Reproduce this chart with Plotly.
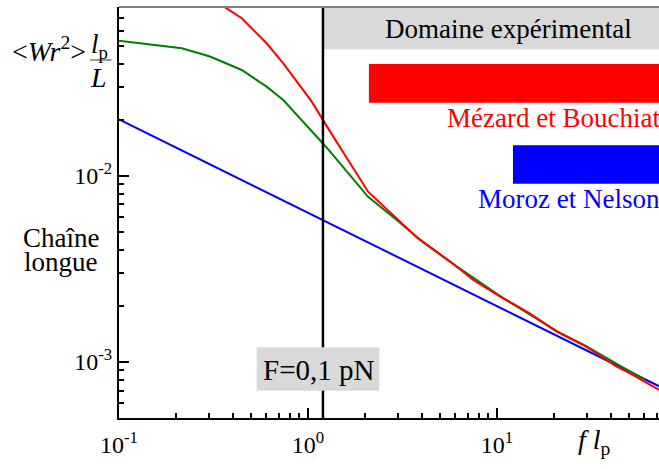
import math
import plotly.graph_objects as go

# ---- data (reduced force f*l_p vs <Wr^2> l_p / L) ----
moroz_x = [0.1, 1.2, 10.0, 72.0]
moroz_y = [0.0201, 0.00578, 0.00198, 0.000738]

green_x = [0.1, 0.215, 0.303, 0.446, 0.604, 0.740, 1.2, 1.31, 2.08, 2.95, 3.82,
           6.12, 10.4, 20.7, 29.8, 43.0, 60.0]
green_y = [0.0532, 0.0484, 0.0437, 0.0370, 0.0301, 0.0255, 0.0149, 0.01346, 0.0077,
           0.00578, 0.00462, 0.00326, 0.00225, 0.00146, 0.00121, 0.000973, 0.000807]

mezard_x = [0.36, 0.446, 0.604, 0.740, 1.047, 1.2, 1.31, 2.08, 2.95, 3.82, 6.12,
            7.49, 10.4, 14.9, 20.7, 29.8, 43.0, 50.6, 72.0]
mezard_y = [0.0811, 0.0702, 0.0515, 0.0402, 0.0250, 0.0199, 0.01725, 0.0082, 0.0059,
            0.0046, 0.00324, 0.00275, 0.00224, 0.00182, 0.00145, 0.00120, 0.00094,
            0.000866, 0.000705]

# reduced force corresponding to F = 0,1 pN
F_line = 1.2
# start of the experimental domains
domain_start_mezard = 2.1
domain_start_moroz = 12.15

x_range = [0.1, 72.0]
y_range = [0.000498, 0.0807]

x_major = [0.1, 1, 10]
x_major_text = ["10<sup>-1</sup>", "10<sup>0</sup>", "10<sup>1</sup>"]
y_major = [0.001, 0.01]
y_major_text = ["10<sup>-3</sup>", "10<sup>-2</sup>"]

x_minor = [m * 10 ** e for e in (-1, 0, 1) for m in range(2, 10) if m * 10 ** e <= x_range[1]]
y_minor = [m * 10 ** e for e in (-4, -3, -2) for m in range(2, 10)
           if y_range[0] <= m * 10 ** e <= y_range[1]]

# ---- layout geometry (pixels) ----
W, H = 659, 469
PL, PR, PT, PB = 119, 659, 7, 418
FONT = "Liberation Serif"


def px(x):
    return (x - PL) / (PR - PL)


def py(y):
    return (PB - y) / (PB - PT)


fig = go.Figure()
fig.add_trace(go.Scatter(x=moroz_x, y=moroz_y, mode="lines",
                         line=dict(color="#0000ff", width=2), showlegend=False))
fig.add_trace(go.Scatter(x=green_x, y=green_y, mode="lines",
                         line=dict(color="#008000", width=2), showlegend=False))
fig.add_trace(go.Scatter(x=mezard_x, y=mezard_y, mode="lines",
                         line=dict(color="#ff0000", width=2), showlegend=False))

shapes = [
    # experimental domain header box
    dict(type="rect", xref="x", yref="paper", x0=F_line, x1=x_range[1],
         y0=py(49.3), y1=1, fillcolor="#d9d9d9", line=dict(width=0), layer="above"),
    # experimental bars
    dict(type="rect", xref="x", yref="paper", x0=domain_start_mezard, x1=x_range[1],
         y0=py(102.7), y1=py(64), fillcolor="#ff0000", line=dict(width=0), layer="above"),
    dict(type="rect", xref="x", yref="paper", x0=domain_start_moroz, x1=x_range[1],
         y0=py(183.7), y1=py(145.3), fillcolor="#0000ff", line=dict(width=0), layer="above"),
    # vertical force line
    dict(type="line", xref="x", yref="paper", x0=F_line, x1=F_line, y0=0, y1=1,
         line=dict(color="black", width=2.5), layer="above"),
    # F box
    dict(type="rect", xref="paper", yref="paper", x0=px(256.7), x1=px(379.3),
         y0=py(390.7), y1=py(347.3), fillcolor="#d9d9d9", line=dict(width=0), layer="above"),
    # top border
    dict(type="line", xref="paper", yref="paper", x0=0, x1=1, y0=1, y1=1,
         line=dict(color="#808080", width=2), layer="above"),
    # fraction bar of the y label
    dict(type="line", xref="paper", yref="paper", x0=px(90), x1=px(111.5),
         y0=py(60), y1=py(60), line=dict(color="#555555", width=1.2), layer="above"),
]

ann = []


def add_text(text, x, y, size, color="black", xanchor="center", yanchor="middle"):
    ann.append(dict(text=text, x=px(x), y=py(y), xref="paper", yref="paper",
                    showarrow=False, xanchor=xanchor, yanchor=yanchor,
                    font=dict(family=FONT, size=size, color=color)))


add_text("Domaine expérimental", 508, 29, 27)
add_text("Mézard et Bouchiat", 662, 118, 27, color="#ff0000", xanchor="right")
add_text("Moroz et Nelson", 662, 199, 27, color="#0000ff", xanchor="right")
add_text("F=0,1 pN", 318, 370, 29)
add_text("Chaîne", 60.5, 238, 27)
add_text("longue", 60.5, 262, 27)
add_text("&lt;<i>Wr</i><sup>2</sup>&gt;", 10, 50, 28, xanchor="left")
add_text("<i>l</i><sub>p</sub>", 99, 46, 27)
add_text("<i>L</i>", 98, 77, 28)
add_text("<i>f</i> <i>l</i><sub>p</sub>", 576, 442, 28, xanchor="left")

fig.update_layout(
    width=W, height=H,
    margin=dict(l=PL, r=W - PR, t=PT, b=H - PB, pad=0),
    paper_bgcolor="white", plot_bgcolor="white",
    shapes=shapes, annotations=ann,
    font=dict(family=FONT, color="black"),
)

fig.update_xaxes(
    type="log", range=[math.log10(x_range[0]), math.log10(x_range[1])],
    showgrid=False, zeroline=False, showline=True, linecolor="black", linewidth=2,
    ticks="inside", ticklen=10, tickwidth=1.5, tickcolor="black",
    tickmode="array", tickvals=x_major, ticktext=x_major_text, ticklabelstandoff=4,
    tickfont=dict(family=FONT, size=24, color="black"),
    minor=dict(tickmode="array", tickvals=x_minor, ticks="inside", ticklen=5,
               tickwidth=1.5, tickcolor="black", showgrid=False),
)
fig.update_yaxes(
    type="log", range=[math.log10(y_range[0]), math.log10(y_range[1])],
    showgrid=False, zeroline=False, showline=True, linecolor="black", linewidth=2,
    ticks="inside", ticklen=10, tickwidth=1.5, tickcolor="black",
    tickmode="array", tickvals=y_major, ticktext=y_major_text,
    tickfont=dict(family=FONT, size=24, color="black"),
    minor=dict(tickmode="array", tickvals=y_minor, ticks="inside", ticklen=5,
               tickwidth=1.5, tickcolor="black", showgrid=False),
)

fig.write_html("out.html", config={"displayModeBar": False},
               post_script="document.body.style.margin='0';document.body.style.overflow='hidden';")
